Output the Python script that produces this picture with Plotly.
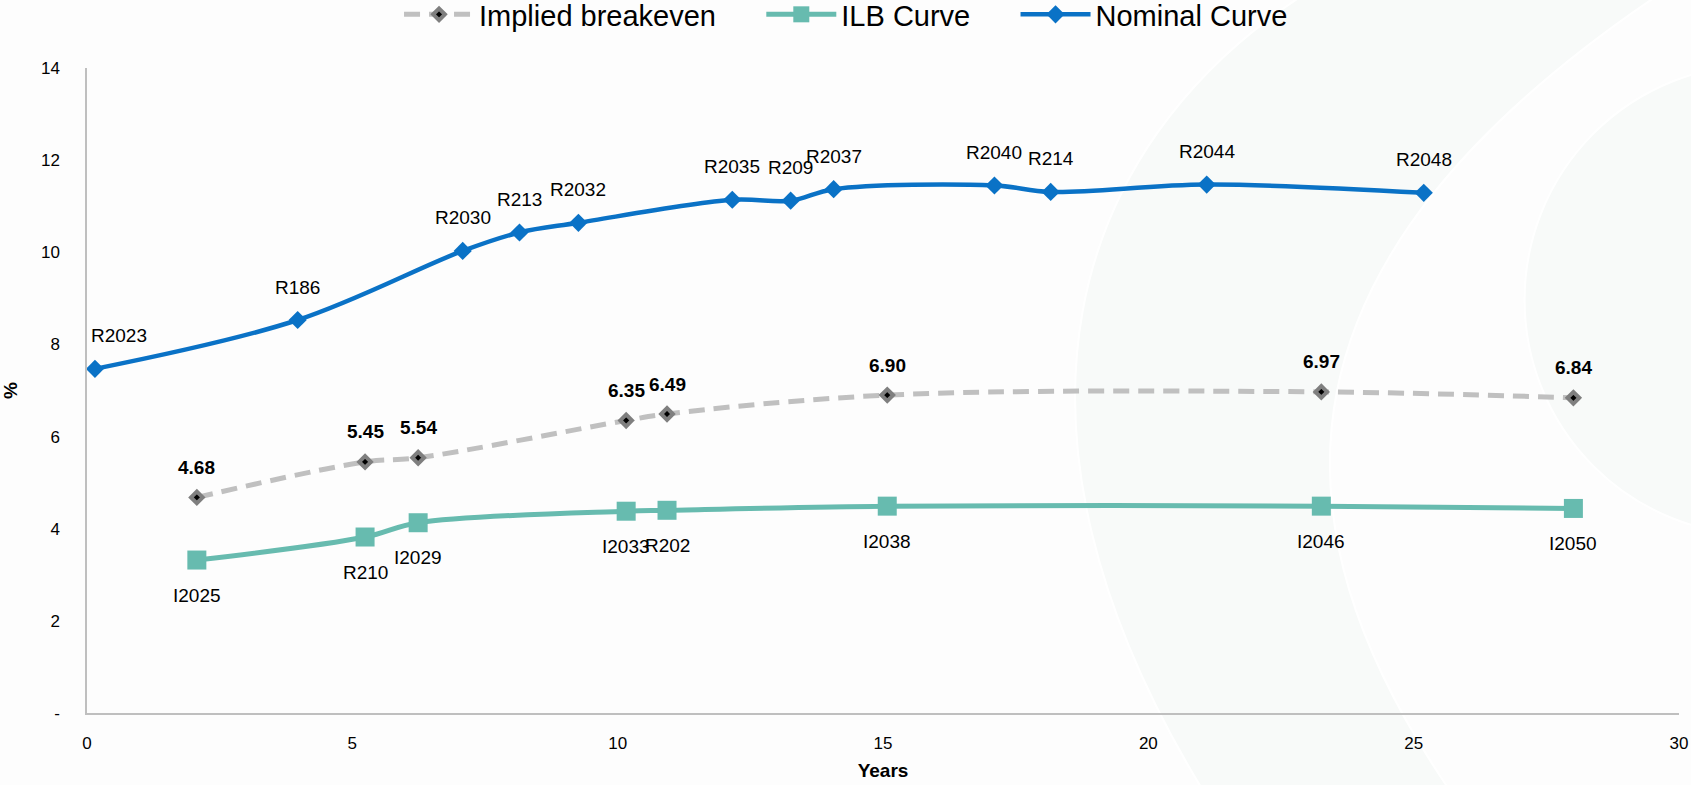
import plotly.graph_objects as go

# ---- data ----
nom_names = ["R2023", "R186", "R2030", "R213", "R2032", "R2035", "R209", "R2037",
             "R2040", "R214", "R2044", "R2048"]
nom_years = [0.15, 3.97, 7.08, 8.15, 9.26, 12.16, 13.26, 14.07, 17.10, 18.16, 21.10, 25.19]
nom_yield = [7.47, 8.53, 10.03, 10.43, 10.64, 11.14, 11.12, 11.37, 11.45, 11.31, 11.47, 11.29]

ilb_names = ["I2025", "R210", "I2029", "I2033", "R202", "I2038", "I2046", "I2050"]
ilb_years = [2.07, 5.24, 6.24, 10.16, 10.93, 15.08, 23.26, 28.01]
ilb_yield = [3.32, 3.82, 4.13, 4.38, 4.40, 4.49, 4.49, 4.44]

be_years = [2.07, 5.24, 6.24, 10.16, 10.93, 15.08, 23.26, 28.01]
be_values = [4.68, 5.45, 5.54, 6.35, 6.49, 6.90, 6.97, 6.84]

y_tickvals = [0, 2, 4, 6, 8, 10, 12, 14]
y_ticktext = ["-", "2", "4", "6", "8", "10", "12", "14"]
x_tickvals = [0, 5, 10, 15, 20, 25, 30]

FONT = "Liberation Sans, Arial, sans-serif"
NOM_C = "#0A72C6"
ILB_C = "#67BBAF"
BE_C = "#C0C0C0"
NBSP = "\u00a0"

fig = go.Figure()

fig.add_trace(go.Scatter(
    x=be_years, y=be_values, name="Implied breakeven" + NBSP * 5,
    mode="lines+markers", line=dict(color=BE_C, width=5, dash="16px,9px", shape="spline"),
    marker=dict(symbol="diamond", size=9, color="#000000", line=dict(color="#7F7F7F", width=4)),
))
fig.add_trace(go.Scatter(
    x=ilb_years, y=ilb_yield, name="ILB Curve" + NBSP * 5,
    mode="lines+markers", line=dict(color=ILB_C, width=5, shape="spline"),
    marker=dict(symbol="square", size=19, color=ILB_C),
))
fig.add_trace(go.Scatter(
    x=nom_years, y=nom_yield, name="Nominal Curve",
    mode="lines+markers", line=dict(color=NOM_C, width=4.5, shape="spline"),
    marker=dict(symbol="diamond", size=14, color=NOM_C),
))

ann = []
for n, xv, yv in zip(nom_names, nom_years, nom_yield):
    # labels that would spill past the left axis are kept inside the plot area
    anchor = "left" if xv < 1 else "center"
    ann.append(dict(x=xv, y=yv, text=n, showarrow=False, yshift=33, xanchor=anchor,
                    xshift=-6 if anchor == "left" else 0,
                    font=dict(family=FONT, size=19, color="#000")))
for n, xv, yv in zip(ilb_names, ilb_years, ilb_yield):
    ann.append(dict(x=xv, y=yv, text=n, showarrow=False, yshift=-35,
                    font=dict(family=FONT, size=19, color="#000")))
for xv, yv in zip(be_years, be_values):
    ann.append(dict(x=xv, y=yv, text="<b>%.2f</b>" % yv, showarrow=False, yshift=30,
                    font=dict(family=FONT, size=19, color="#000")))

# faint background watermark (decorative, paper coordinates)
WM = "#F8FAF9"
shapes = [
    dict(type="path", xref="paper", yref="paper", layer="below",
         path="M 0.762 1.11 C 0.62 0.88, 0.56 0.45, 0.701 -0.12 L 0.856 -0.12 "
              "C 0.74 0.30, 0.74 0.70, 0.985 1.11 Z",
         fillcolor=WM, line=dict(color="#FFFFFF", width=2)),
    dict(type="circle", xref="paper", yref="paper", layer="below",
         x0=0.903, x1=1.198, y0=0.276, y1=1.005,
         fillcolor=WM, line=dict(color="#FFFFFF", width=2)),
]

fig.update_layout(
    width=1691, height=785,
    margin=dict(l=87, r=12, t=68, b=72, autoexpand=False),
    paper_bgcolor="#FDFDFD", plot_bgcolor="rgba(0,0,0,0)",
    font=dict(family=FONT, color="#000"),
    showlegend=True,
    shapes=shapes,
    legend=dict(orientation="h", x=0.196, xanchor="left", y=1.083, yanchor="middle",
                font=dict(family=FONT, size=29, color="#000"), itemwidth=70,
                bgcolor="rgba(0,0,0,0)"),
    annotations=ann,
    xaxis=dict(range=[0, 30], tickvals=x_tickvals, showgrid=False, zeroline=False,
               showline=True, linecolor="#BFBFBF", linewidth=1.5, ticks="",
               tickfont=dict(family=FONT, size=17, color="#000"), ticklabelstandoff=14,
               title=dict(text="<b>Years</b>", font=dict(family=FONT, size=19, color="#000"), standoff=12)),
    yaxis=dict(range=[0, 14], tickvals=y_tickvals, ticktext=y_ticktext, showgrid=False,
               zeroline=False, showline=True, linecolor="#BFBFBF", linewidth=1.5, ticks="",
               tickfont=dict(family=FONT, size=17, color="#000"), ticklabelstandoff=22,
               title=dict(text="<b>%</b>", font=dict(family=FONT, size=19, color="#000"), standoff=18)),
)

fig.write_html("out.html")
